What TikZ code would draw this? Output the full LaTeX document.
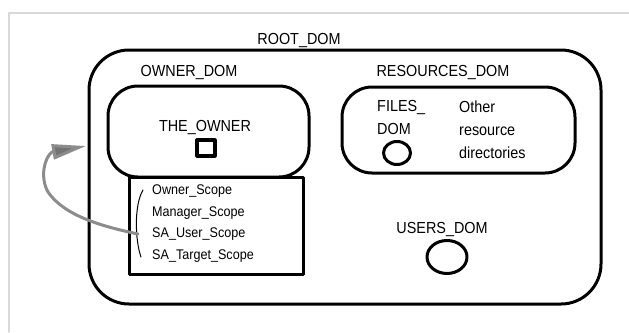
\documentclass[tikz,border=0pt]{standalone}
\usepackage{fontspec}
\setmainfont{Liberation Sans}
\usetikzlibrary{arrows.meta,shapes.geometric}
\newcommand{\nrw}[1]{\scalebox{0.9}[1]{#1}}
\tikzset{
  dombox/.style={draw,line width=3pt,fill=white,inner sep=0pt},
  domlabel/.style={inner sep=0pt,font=\fontsize{16}{23}\selectfont},
  scopetext/.style={inner sep=0pt,anchor=west,font=\fontsize{14}{16}\selectfont},
  dirhole/.style={draw,ellipse,line width=3pt,inner sep=0pt},
}
\begin{document}
\begin{tikzpicture}[line cap=round,line join=round,x=1pt,y=-1pt]
\useasboundingbox (0,0) rectangle (629,332);
%\clip (0,0) rectangle (629,332);
\draw [line width=1.5pt,color=gray!30] (9,332)-- (9,13)-- (629,13);
% domains
\node[dombox,rounded corners=40pt,minimum width=512pt,minimum height=254pt] (root) at (345,177) {};
\node[dombox,rectangle,minimum width=174pt,minimum height=97pt] (scopes) at (216,225.5) {};
\node[dombox,rounded corners=30pt,minimum width=201pt,minimum height=91pt] (owner) at (208.5,131.5) {};
\node[dombox,rounded corners=30pt,minimum width=233pt,minimum height=86pt] (res) at (458.5,130) {};
\node[domlabel] (rootlab) at (299,41) {\nrw{ROOT\_DOM}};
\node[domlabel] (ownerlab) at (189,73) {\nrw{OWNER\_DOM}};
\node[domlabel] (reslab) at (443,73) {\nrw{RESOURCES\_DOM}};
\node[domlabel] (theowner) at (205,128) {\nrw{THE\_OWNER}};
\node[draw,line width=3.2pt,minimum width=18pt,minimum height=16pt,inner sep=0pt] (ownersq) at (206,148) {};
\node[domlabel,align=left,anchor=west] (fileslab) at (377,117) {\nrw{FILES\_}\\\nrw{DOM}};
\node[dirhole,minimum width=27pt,minimum height=23pt] (files) at (397,153) {};
\node[domlabel,align=left,anchor=west] (otherlab) at (459,130) {\nrw{Other}\\\nrw{resource}\\\nrw{directories}};
\node[domlabel] (userslab) at (442,230) {\nrw{USERS\_DOM}};
\node[dirhole,minimum width=40pt,minimum height=33pt] (users) at (447,257) {};
% scopes
\node[scopetext] (scopeA) at (152,191) {\nrw{Owner\_Scope}};
\node[scopetext] (scopeB) at (152,213) {\nrw{Manager\_Scope}};
\node[scopetext] (scopeC) at (152,234) {\nrw{SA\_User\_Scope}};
\node[scopetext] (scopeD) at (152,256) {\nrw{SA\_Target\_Scope}};
\draw [line width=1pt] (143,190) .. controls (134,205) and (135,240) .. (141,257);
\coordinate (arrowend) at (86,146);
\draw [line width=3pt,color=black!45,-{Triangle[length=34pt,width=15pt,fill=black!55]}]
  ([xshift=-14pt]scopeC.west) .. controls (90,224) and (62,212) .. (48,192)
  .. controls (40,178) and (44,158) .. (52,152) -- (arrowend);
\end{tikzpicture}
\end{document}
